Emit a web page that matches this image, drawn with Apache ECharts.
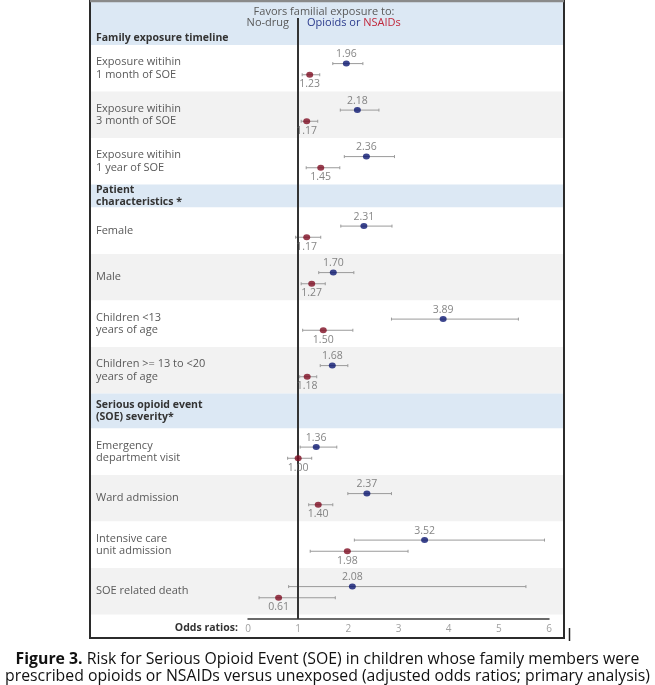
<!DOCTYPE html>
<html>
<head>
<meta charset="utf-8">
<script src="https://cdn.jsdelivr.net/npm/echarts@6/dist/echarts.min.js"></script>
<style>
html,body{margin:0;padding:0;background:#fff;}
#chart{width:655px;height:685px;}
</style>
</head>
<body>
<div id="chart"></div>
<script>
// ---------------- data ----------------
const sectionTitles = ['Family exposure timeline', 'Patient\ncharacteristics *', 'Serious opioid event\n(SOE) severity*'];
const rowLabels = [
  'Exposure witihin\n1 month of SOE',
  'Exposure witihin\n3 month of SOE',
  'Exposure witihin\n1 year of SOE',
  'Female',
  'Male',
  'Children <13\nyears of age',
  'Children >= 13 to <20\nyears of age',
  'Emergency\ndepartment visit',
  'Ward admission',
  'Intensive care\nunit admission',
  'SOE related death'
];
const rowSection = [0, 0, 0, 1, 1, 1, 1, 2, 2, 2, 2];
const opioidOR   = [1.96, 2.18, 2.36, 2.31, 1.70, 3.89, 1.68, 1.36, 2.37, 3.52, 2.08];
const opioidLow  = [1.69, 1.84, 1.92, 1.85, 1.41, 2.86, 1.44, 1.04, 1.99, 2.12, 0.81];
const opioidHigh = [2.29, 2.61, 2.92, 2.87, 2.11, 5.39, 1.99, 1.77, 2.86, 5.91, 5.54];
const nsaidOR    = [1.23, 1.17, 1.45, 1.17, 1.27, 1.50, 1.18, 1.00, 1.40, 1.98, 0.61];
const nsaidLow   = [1.08, 1.06, 1.16, 0.95, 1.06, 1.09, 1.03, 0.79, 1.21, 1.24, 0.22];
const nsaidHigh  = [1.43, 1.39, 1.83, 1.45, 1.54, 2.09, 1.37, 1.27, 1.69, 3.19, 1.74];
const xTicks = [0, 1, 2, 3, 4, 5, 6];
const referenceOR = 1;

// ---------------- layout ----------------
const FONT = '"Open Sans", "Liberation Sans", sans-serif';
const BLUE = '#0b1670', RED = '#7e0c22', TXT = '#595959';
const BOX_L = 90, BOX_R = 564, BOX_T = 1, BOX_B = 638;
const TABLE_TOP = 2;
const PLOT_H = 617;
const headerH = [43, 23, 35];
const rowH = 46.5;
const blueOff = 0.40, redOff = 0.64;

const bands = [];
const rowTop = [];
let cur = 0;
for (let s = 0; s < sectionTitles.length; s++) {
  bands.push({y0: cur, y1: cur + headerH[s], kind: 'header', idx: s});
  cur += headerH[s];
  rowSection.forEach((sec, i) => {
    if (sec === s) {
      bands.push({y0: cur, y1: cur + rowH, kind: 'row', idx: i});
      rowTop[i] = cur;
      cur += rowH;
    }
  });
}
const yBlue = rowTop.map(t => t + rowH * blueOff);
const yRed = rowTop.map(t => t + rowH * redOff);

const chart = echarts.init(document.getElementById('chart'), null, {renderer: 'canvas'});

function errRender(params, api) {
  const lo = api.coord([api.value(0), api.value(2)]);
  const hi = api.coord([api.value(1), api.value(2)]);
  const style = {stroke: '#9a9a9a', lineWidth: 1};
  return {
    type: 'group',
    children: [
      {type: 'line', shape: {x1: lo[0], y1: lo[1], x2: hi[0], y2: hi[1]}, style},
      {type: 'line', shape: {x1: lo[0], y1: lo[1] - 1.5, x2: lo[0], y2: lo[1] + 1.5}, style},
      {type: 'line', shape: {x1: hi[0], y1: hi[1] - 1.5, x2: hi[0], y2: hi[1] + 1.5}, style}
    ]
  };
}

const gridLeft = 248, gridW = 301;
const toPx = y => TABLE_TOP + y;

const graphics = [];
bands.forEach(b => {
  let fill;
  if (b.kind === 'header') fill = '#dce8f4';
  else fill = (rowSection.slice(0, b.idx).filter(s => s === rowSection[b.idx]).length % 2 === 1) ? '#f2f2f2' : '#ffffff';
  graphics.push({type: 'rect', z: -10, silent: true,
    shape: {x: BOX_L, y: toPx(b.y0), width: BOX_R - BOX_L, height: b.y1 - b.y0},
    style: {fill}});
  if (b.kind === 'header') {
    const isFirst = b.idx === 0;
    graphics.push({type: 'text', z: 5, silent: true,
      x: 96, y: isFirst ? toPx(b.y1) - 7 : toPx((b.y0 + b.y1) / 2) + 0.5,
      style: {text: sectionTitles[b.idx], font: 'bold 10.5px ' + FONT, fill: '#333333',
        verticalAlign: 'middle', align: 'left', lineHeight: 12}});
  } else {
    graphics.push({type: 'text', z: 5, silent: true,
      x: 96, y: toPx((b.y0 + b.y1) / 2),
      style: {text: rowLabels[b.idx], font: '11px ' + FONT, fill: TXT,
        verticalAlign: 'middle', align: 'left', lineHeight: 12.5}});
  }
});
graphics.push({type: 'text', z: 5, x: 324, y: 12,
  style: {text: 'Favors familial exposure to:', font: '11px ' + FONT, fill: TXT, align: 'center', verticalAlign: 'middle'}});
graphics.push({type: 'text', z: 5, x: 289, y: 23,
  style: {text: 'No-drug', font: '11px ' + FONT, fill: TXT, align: 'right', verticalAlign: 'middle'}});
graphics.push({type: 'text', z: 5, x: 307, y: 23,
  style: {text: '{b|Opioids or} {r|NSAIDs}', font: '11px ' + FONT, verticalAlign: 'middle', align: 'left',
    rich: {b: {fill: '#2a3a8c', font: '11px ' + FONT}, r: {fill: '#c0283c', font: '11px ' + FONT}}}});
graphics.push({type: 'rect', z: 20, silent: true,
  shape: {x: BOX_L, y: BOX_T, width: BOX_R - BOX_L, height: BOX_B - BOX_T},
  style: {fill: null, stroke: '#2b2b2b', lineWidth: 2}});
graphics.push({type: 'line', z: 21, silent: true,
  shape: {x1: BOX_L, y1: 1, x2: BOX_R, y2: 1}, style: {stroke: '#8a8a8a', lineWidth: 2.5}});
graphics.push({type: 'line', z: 21, silent: true,
  shape: {x1: 569.5, y1: 628, x2: 569.5, y2: 641}, style: {stroke: '#222', lineWidth: 1.5}});
graphics.push({type: 'text', z: 5, x: 327.5, y: 659,
  style: {text: '{b|Figure 3.} Risk for Serious Opioid Event (SOE) in children whose family members were',
    font: '15.8px ' + FONT, fill: '#111', align: 'center', verticalAlign: 'middle',
    rich: {b: {font: 'bold 15.8px ' + FONT, fill: '#111'}}}});
graphics.push({type: 'text', z: 5, x: 327.5, y: 676,
  style: {text: 'prescribed opioids or NSAIDs versus unexposed (adjusted odds ratios; primary analysis)',
    font: '15.8px ' + FONT, fill: '#111', align: 'center', verticalAlign: 'middle'}});

const option = {
  animation: false,
  backgroundColor: '#ffffff',
  textStyle: {fontFamily: FONT},
  grid: {left: gridLeft, width: gridW, top: TABLE_TOP, height: PLOT_H},
  xAxis: {
    type: 'value', position: 'bottom', min: xTicks[0], max: xTicks[xTicks.length - 1], interval: 1,
    axisLine: {show: true, onZero: false, lineStyle: {color: '#3a3a3a', width: 1.5}},
    axisTick: {show: false},
    splitLine: {show: false},
    axisLabel: {color: '#a0a0a0', fontSize: 10, margin: 5, fontFamily: FONT},
    name: 'Odds ratios:', nameLocation: 'start', nameGap: 10,
    nameTextStyle: {fontWeight: 'bold', fontSize: 10.5, color: '#333', fontFamily: FONT,
      verticalAlign: 'top', padding: [4, 0, 0, 0], align: 'right'}
  },
  yAxis: {type: 'value', inverse: true, min: 0, max: PLOT_H, show: false},
  graphic: graphics,
  series: [
    {type: 'custom', renderItem: errRender, z: 3, silent: true,
      data: opioidOR.map((v, i) => [opioidLow[i], opioidHigh[i], yBlue[i]]), clip: false},
    {type: 'custom', renderItem: errRender, z: 3, silent: true,
      data: nsaidOR.map((v, i) => [nsaidLow[i], nsaidHigh[i], yRed[i]]), clip: false},
    {type: 'scatter', name: 'Opioids', z: 5, symbol: 'circle', symbolSize: [7, 6],
      itemStyle: {color: BLUE},
      data: opioidOR.map((v, i) => [v, yBlue[i]]),
      label: {show: true, position: 'top', distance: 1, color: '#666', fontSize: 10.5, fontFamily: FONT,
        formatter: p => p.value[0].toFixed(2)},
      markLine: {silent: true, symbol: 'none', label: {show: false},
        lineStyle: {color: '#333', width: 2, type: 'solid'},
        data: [[{coord: [referenceOR, 16]}, {coord: [referenceOR, PLOT_H]}]]}},
    {type: 'scatter', name: 'NSAIDs', z: 5, symbol: 'circle', symbolSize: [7, 6],
      itemStyle: {color: RED},
      data: nsaidOR.map((v, i) => [v, yRed[i]]),
      label: {show: true, position: 'bottom', distance: 1, color: '#666', fontSize: 10.5, fontFamily: FONT,
        formatter: p => p.value[0].toFixed(2)}}
  ]
};
chart.setOption(option);
</script>
</body>
</html>
